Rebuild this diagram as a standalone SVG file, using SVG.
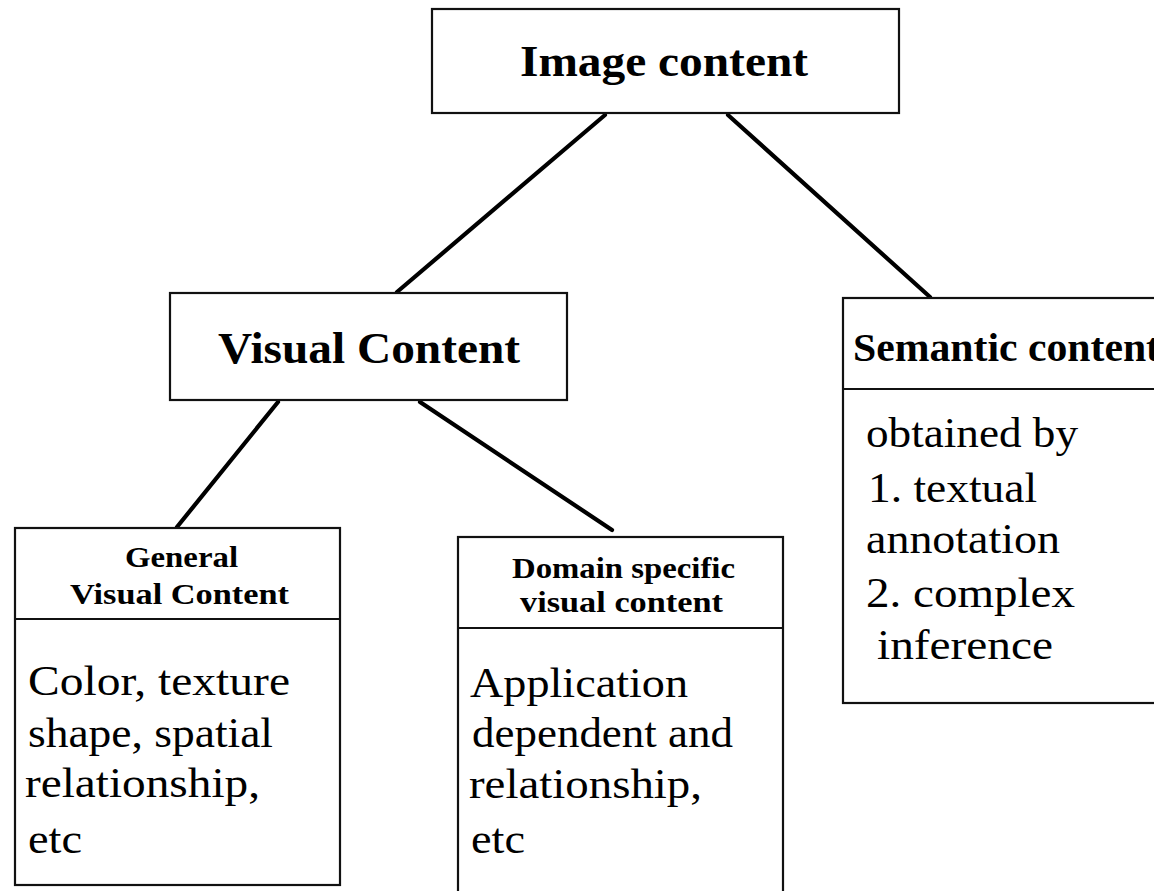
<svg xmlns="http://www.w3.org/2000/svg" width="1154" height="891" viewBox="0 0 1154 891">
<style>
.box{fill:#fff;stroke:#111;stroke-width:2.2}
.div{stroke:#111;stroke-width:2.2;fill:none}
.conn{stroke:#000;stroke-width:4.2;stroke-linecap:round;fill:none}
.hb{font-family:"Liberation Serif","Times New Roman",serif;font-weight:bold;fill:#000}
.bd{font-family:"Liberation Serif","Times New Roman",serif;font-size:42px;fill:#000}
</style>
<rect x="0" y="0" width="1154" height="891" fill="#fff"/>
<g id="connectors">
<line class="conn" x1="605" y1="115" x2="397" y2="292"/>
<line class="conn" x1="728" y1="115" x2="930" y2="297"/>
<line class="conn" x1="278" y1="402" x2="177" y2="527"/>
<line class="conn" x1="420" y1="402" x2="612" y2="530"/>
</g>
<g id="image-content">
<rect class="box" x="432" y="9" width="467" height="104"/>
<text class="hb" x="520" y="76" font-size="44" textLength="288" lengthAdjust="spacingAndGlyphs">Image content</text>
</g>
<g id="visual-content">
<rect class="box" x="170" y="293" width="397" height="107"/>
<text class="hb" x="218" y="363" font-size="44" textLength="302" lengthAdjust="spacingAndGlyphs">Visual Content</text>
</g>
<g id="semantic-content">
<rect class="box" x="843" y="298" width="330" height="405"/>
<line class="div" x1="843" y1="389" x2="1160" y2="389"/>
<text class="hb" x="853" y="361" font-size="40" textLength="307" lengthAdjust="spacingAndGlyphs">Semantic content</text>
<text class="bd" x="866" y="447" textLength="212" lengthAdjust="spacingAndGlyphs">obtained by</text>
<text class="bd" x="868" y="502" textLength="169" lengthAdjust="spacingAndGlyphs">1. textual</text>
<text class="bd" x="866" y="553" textLength="194" lengthAdjust="spacingAndGlyphs">annotation</text>
<text class="bd" x="866" y="607" textLength="209" lengthAdjust="spacingAndGlyphs">2. complex</text>
<text class="bd" x="877" y="659" textLength="176" lengthAdjust="spacingAndGlyphs">inference</text>
</g>
<g id="general-visual-content">
<rect class="box" x="15" y="528" width="325" height="357"/>
<line class="div" x1="15" y1="619" x2="340" y2="619"/>
<text class="hb" x="125" y="567" font-size="29" textLength="113" lengthAdjust="spacingAndGlyphs">General</text>
<text class="hb" x="70" y="604" font-size="29" textLength="219" lengthAdjust="spacingAndGlyphs">Visual Content</text>
<text class="bd" x="28" y="695" textLength="262" lengthAdjust="spacingAndGlyphs">Color, texture</text>
<text class="bd" x="28" y="747" textLength="245" lengthAdjust="spacingAndGlyphs">shape, spatial</text>
<text class="bd" x="25" y="797" textLength="235" lengthAdjust="spacingAndGlyphs">relationship,</text>
<text class="bd" x="28" y="853" textLength="54" lengthAdjust="spacingAndGlyphs">etc</text>
</g>
<g id="domain-specific-visual-content">
<rect class="box" x="458" y="537" width="325" height="370"/>
<line class="div" x1="458" y1="628" x2="783" y2="628"/>
<text class="hb" x="512" y="578" font-size="29" textLength="223" lengthAdjust="spacingAndGlyphs">Domain specific</text>
<text class="hb" x="520" y="612" font-size="29" textLength="203" lengthAdjust="spacingAndGlyphs">visual content</text>
<text class="bd" x="470" y="697" textLength="218" lengthAdjust="spacingAndGlyphs">Application</text>
<text class="bd" x="472" y="747" textLength="261" lengthAdjust="spacingAndGlyphs">dependent and</text>
<text class="bd" x="469" y="798" textLength="233" lengthAdjust="spacingAndGlyphs">relationship,</text>
<text class="bd" x="471" y="853" textLength="54" lengthAdjust="spacingAndGlyphs">etc</text>
</g>
</svg>
